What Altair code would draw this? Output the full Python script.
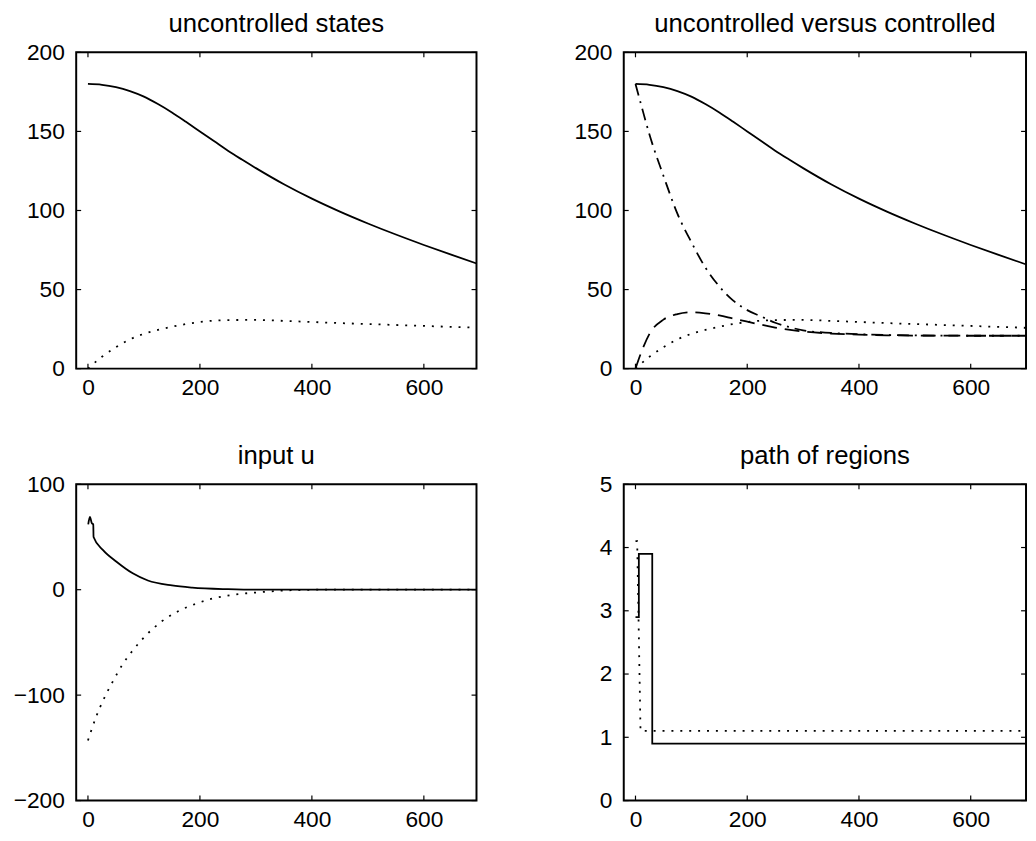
import altair as alt
import pandas as pd

# ---------------- data ----------------
# uncontrolled states (same in panel 1 and 2)
t_unc = [0, 25, 50, 75, 100, 125, 150, 175, 200, 225, 250, 275, 300, 350, 400, 450, 500, 550, 600, 650, 700]
x1_unc = [180, 179.5, 178, 175.5, 172, 167.3, 162, 156.1, 150, 143.9, 137.8, 132.2, 126.8, 116.6, 107.5, 99.3, 91.8, 84.8, 78.2, 71.9, 65.8]
t_unc2 = [0, 25, 50, 75, 100, 125, 150, 175, 200, 250, 300, 350, 400, 450, 500, 550, 600, 650, 700]
x2_unc = [0, 7.5, 13.5, 18.5, 22, 24.5, 26.5, 28.2, 29.5, 30.7, 30.8, 30.2, 29.5, 28.8, 28.2, 27.6, 27, 26.4, 25.8]

# controlled states (panel 2)
t_x1c = [0, 10, 25, 50, 75, 100, 125, 150, 175, 200, 225, 250, 275, 300, 350, 400, 450, 500, 600, 700]
x1_ctl = [180, 167, 148, 122, 98, 80, 64, 52, 43, 37, 33, 29, 26.3, 24.2, 22.6, 21.8, 21.3, 21, 20.8, 20.8]
t_x2c = [0, 10, 25, 50, 75, 100, 125, 150, 175, 200, 250, 300, 350, 400, 450, 500, 600, 700]
x2_ctl = [0, 10, 22, 31, 34.5, 35.7, 35, 33.6, 31.6, 29.7, 26, 23.5, 22.2, 21.5, 21.1, 20.9, 20.8, 20.8]

# input u (panel 3)
t_u1 = [0.5, 3.5, 7, 9.5, 10, 27, 51, 80, 107, 150, 186, 250, 300, 700]
u1 = [62, 69, 63, 62, 50, 37.5, 26.5, 15.5, 8.7, 4, 2, 0.5, 0, 0]
t_u2 = [0, 5, 15, 28, 44, 61, 81, 105, 132, 161, 192, 222, 257, 304, 363, 420, 700]
u2 = [-143, -135, -120, -104, -87.5, -71.5, -57, -42.5, -30, -20.5, -13.5, -8.5, -5, -2.5, -0.5, 0, 0]

# path of regions (panel 4)
t_r1 = [0, 6, 6, 30, 30, 700]
r1 = [2.9, 2.9, 3.9, 3.9, 0.9, 0.9]
t_r2 = [0, 3, 9, 700]
r2 = [4.1, 4.1, 1.1, 1.1]

x_ticks = [0, 200, 400, 600]
y_ticks_states = [0, 50, 100, 150, 200]
y_ticks_u = [-200, -100, 0, 100]
y_ticks_regions = [0, 1, 2, 3, 4, 5]

titles = ["uncontrolled states", "uncontrolled versus controlled", "input u", "path of regions"]

# ---------------- styling ----------------
X_DOMAIN_L = [-21, 694]
X_DOMAIN_R = [-21, 699]
W_L, W_R, H = 405, 407, 320
FONT = "Liberation Sans"
TICK = 5
DOT = [2, 7]
DASH = [15, 8]
DASHDOT = [12, 6, 2, 6]


def frame_df(t, v):
    return pd.DataFrame({"t": t, "v": v})


def panel(title, lines, y_domain, y_ticks, x_domain, W):
    xs = alt.Scale(domain=x_domain, nice=False, zero=False)
    ys = alt.Scale(domain=y_domain, nice=False, zero=False)
    xaxis = alt.Axis(values=x_ticks, ticks=False, domain=False, grid=False, title=None,
                     labelPadding=8, labelFontSize=23, labelFont=FONT, labelColor="black")
    yaxis = alt.Axis(values=y_ticks, ticks=False, domain=False, grid=False, title=None,
                     labelPadding=12, labelFontSize=23, labelFont=FONT, labelColor="black",
                     format="d")
    layers = []
    for t, v, dash, interp in lines:
        kw = dict(color="black", strokeWidth=1.8, interpolate=interp, clip=True)
        if dash is not None:
            kw["strokeDash"] = dash
        layers.append(
            alt.Chart(frame_df(t, v)).mark_line(**kw).encode(
                x=alt.X("t:Q", scale=xs, axis=xaxis),
                y=alt.Y("v:Q", scale=ys, axis=yaxis),
            )
        )
    xt = pd.DataFrame({"t": x_ticks})
    yt = pd.DataFrame({"v": y_ticks})
    rule_kw = dict(color="black", strokeWidth=1.2)
    layers.append(alt.Chart(xt).mark_rule(**rule_kw).encode(
        x=alt.X("t:Q", scale=xs), y=alt.value(H), y2=alt.value(H - TICK)))
    layers.append(alt.Chart(xt).mark_rule(**rule_kw).encode(
        x=alt.X("t:Q", scale=xs), y=alt.value(0), y2=alt.value(TICK)))
    layers.append(alt.Chart(yt).mark_rule(**rule_kw).encode(
        y=alt.Y("v:Q", scale=ys), x=alt.value(0), x2=alt.value(TICK)))
    layers.append(alt.Chart(yt).mark_rule(**rule_kw).encode(
        y=alt.Y("v:Q", scale=ys), x=alt.value(W), x2=alt.value(W - TICK)))
    return alt.layer(*layers).properties(
        width=W, height=H,
        title=alt.TitleParams(title, fontSize=26, font=FONT, fontWeight="normal",
                              color="black", anchor="middle", baseline="alphabetic", offset=-16),
    )


p1 = panel(titles[0], [
    (t_unc, x1_unc, None, "monotone"),
    (t_unc2, x2_unc, DOT, "monotone"),
], [0, 200], y_ticks_states, X_DOMAIN_L, W_L)

p2 = panel(titles[1], [
    (t_unc, x1_unc, None, "monotone"),
    (t_unc2, x2_unc, DOT, "monotone"),
    (t_x1c, x1_ctl, DASHDOT, "monotone"),
    (t_x2c, x2_ctl, DASH, "monotone"),
], [0, 200], y_ticks_states, X_DOMAIN_R, W_R)

p3 = panel(titles[2], [
    (t_u1, u1, None, "monotone"),
    (t_u2, u2, DOT, "monotone"),
], [-200, 100], y_ticks_u, X_DOMAIN_L, W_L)

p4 = panel(titles[3], [
    (t_r1, r1, None, "linear"),
    (t_r2, r2, DOT, "linear"),
], [0, 5], y_ticks_regions, X_DOMAIN_R, W_R)

chart = alt.concat(
    p1, p2, p3, p4, columns=2,
    spacing={"row": 117, "column": 147},
    bounds="flush", align="all",
).properties(
    padding={"left": 4, "top": -3, "right": 0, "bottom": 0},
).configure(
    font=FONT
).configure_view(
    stroke="black", strokeWidth=2
)

chart.save("out.html", embed_options={"renderer": "svg", "actions": False})
